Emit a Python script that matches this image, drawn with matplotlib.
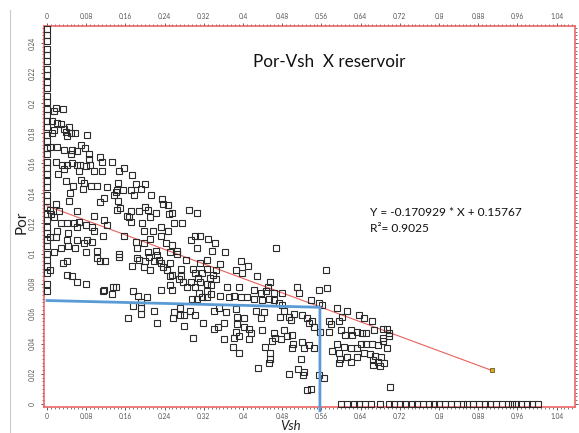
import numpy as np
import matplotlib
matplotlib.use("Agg")
import matplotlib.pyplot as plt
from matplotlib.ticker import MultipleLocator
from matplotlib.lines import Line2D

# --- data ---
# upper part of the cloud
vsh_upper = [0.018, 0.033, 0.014, 0.011, 0.020, 0.028, 0.045, 0.035, 0.014, 0.038,
             0.048, 0.058, 0.041, 0.011, 0.082, 0.007, 0.021, 0.035, 0.052, 0.061,
             0.048, 0.070, 0.077, 0.086, 0.086, 0.108, 0.018, 0.031, 0.041, 0.052,
             0.062, 0.067, 0.079, 0.088, 0.113, 0.133, 0.035, 0.022, 0.065, 0.096,
             0.113, 0.147, 0.157, 0.174, 0.069, 0.076, 0.038, 0.054, 0.089, 0.074,
             0.103, 0.123, 0.144, 0.156, 0.142, 0.171, 0.181, 0.191, 0.200, 0.177,
             0.047, 0.045, 0.116, 0.108, 0.137, 0.140, 0.144, 0.213, 0.235, 0.237,
             0.247, 0.201, 0.150, 0.142, 0.171, 0.188, 0.206, 0.222, 0.256, 0.249,
             0.290, 0.307, 0.018, 0.007, 0.024, 0.062, 0.095, 0.116, 0.122, 0.009,
             0.014, 0.028, 0.040, 0.056, 0.065, 0.062, 0.079, 0.092, 0.021, 0.043,
             0.096, 0.115, 0.007, 0.018, 0.041, 0.062, 0.082, 0.075, 0.092, 0.028,
             0.043, 0.058, 0.014, 0.079, 0.103, 0.147, 0.157, 0.167, 0.171, 0.164,
             0.181, 0.184, 0.193, 0.198, 0.210, 0.217, 0.210, 0.198, 0.233, 0.247,
             0.260, 0.276, 0.232, 0.242, 0.256, 0.266, 0.293, 0.303, 0.313, 0.307,
             0.206, 0.222, 0.252]
por_upper = [0.197, 0.196, 0.195, 0.188, 0.187, 0.186, 0.184, 0.183, 0.182, 0.181,
             0.180, 0.180, 0.178, 0.180, 0.179, 0.171, 0.171, 0.169, 0.169, 0.168,
             0.166, 0.172, 0.170, 0.166, 0.163, 0.164, 0.161, 0.159, 0.159, 0.160,
             0.159, 0.159, 0.158, 0.159, 0.161, 0.161, 0.156, 0.153, 0.155, 0.155,
             0.155, 0.155, 0.157, 0.152, 0.149, 0.147, 0.148, 0.145, 0.145, 0.143,
             0.145, 0.144, 0.147, 0.142, 0.142, 0.142, 0.146, 0.143, 0.146, 0.139,
             0.140, 0.135, 0.137, 0.134, 0.139, 0.141, 0.135, 0.139, 0.136, 0.133,
             0.132, 0.131, 0.130, 0.129, 0.128, 0.128, 0.129, 0.127, 0.127, 0.126,
             0.129, 0.127, 0.133, 0.129, 0.128, 0.128, 0.125, 0.122, 0.119, 0.126,
             0.124, 0.120, 0.120, 0.120, 0.121, 0.118, 0.119, 0.118, 0.115, 0.114,
             0.115, 0.112, 0.111, 0.111, 0.109, 0.109, 0.109, 0.107, 0.108, 0.104,
             0.105, 0.104, 0.101, 0.101, 0.102, 0.100, 0.112, 0.124, 0.121, 0.125,
             0.108, 0.104, 0.120, 0.115, 0.124, 0.115, 0.110, 0.107, 0.118, 0.115,
             0.120, 0.120, 0.112, 0.107, 0.106, 0.102, 0.109, 0.112, 0.112, 0.104,
             0.101, 0.102, 0.101]

# middle-left part
vsh_mid = [0.007, 0.033, 0.040, 0.040, 0.052, 0.062, 0.079, 0.103, 0.108, 0.118,
           0.116, 0.115, 0.135, 0.141, 0.132, 0.147, 0.174, 0.188, 0.197, 0.211,
           0.201, 0.218, 0.228, 0.237, 0.245, 0.252, 0.233, 0.256, 0.252, 0.273,
           0.274, 0.278, 0.270, 0.293, 0.303, 0.313, 0.251, 0.256, 0.232, 0.286,
           0.303, 0.310, 0.296, 0.307, 0.317, 0.175, 0.186, 0.205, 0.191, 0.176,
           0.191, 0.191, 0.165, 0.218, 0.225, 0.259, 0.258, 0.271, 0.272, 0.280,
           0.291, 0.303, 0.319, 0.280, 0.298, 0.184, 0.208, 0.225, 0.266, 0.283,
           0.313, 0.297, 0.317, 0.308]
por_mid = [0.089, 0.094, 0.095, 0.086, 0.085, 0.081, 0.080, 0.097, 0.095, 0.095,
           0.076, 0.075, 0.078, 0.078, 0.073, 0.098, 0.092, 0.096, 0.091, 0.089,
           0.095, 0.095, 0.096, 0.091, 0.089, 0.094, 0.094, 0.086, 0.085, 0.090,
           0.085, 0.081, 0.083, 0.081, 0.087, 0.081, 0.079, 0.076, 0.076, 0.078,
           0.078, 0.074, 0.070, 0.070, 0.071, 0.075, 0.072, 0.071, 0.068, 0.065,
           0.064, 0.060, 0.057, 0.062, 0.054, 0.061, 0.057, 0.064, 0.059, 0.059,
           0.062, 0.059, 0.054, 0.052, 0.044, 0.097, 0.098, 0.099, 0.100, 0.096,
           0.094, 0.090, 0.087, 0.084]

# lower-right part
vsh_lower = [0.329, 0.343, 0.337, 0.363, 0.467, 0.327, 0.354, 0.327, 0.344, 0.339,
             0.333, 0.344, 0.326, 0.334, 0.326, 0.334, 0.326, 0.395, 0.410, 0.385,
             0.397, 0.429, 0.367, 0.392, 0.456, 0.451, 0.422, 0.436, 0.446, 0.463,
             0.480, 0.511, 0.514, 0.354, 0.371, 0.382, 0.395, 0.409, 0.422, 0.439,
             0.453, 0.463, 0.480, 0.473, 0.538, 0.555, 0.572, 0.569, 0.555, 0.562,
             0.591, 0.613, 0.637, 0.603, 0.596, 0.575, 0.579, 0.575, 0.601, 0.620,
             0.633, 0.643, 0.609, 0.623, 0.592, 0.606, 0.620, 0.633, 0.640, 0.582,
             0.596, 0.613, 0.599, 0.633, 0.620, 0.596, 0.341, 0.351, 0.365, 0.385,
             0.402, 0.388, 0.426, 0.443, 0.436, 0.484, 0.475, 0.494, 0.504, 0.497,
             0.521, 0.531, 0.541, 0.535, 0.558, 0.545, 0.361, 0.341, 0.348, 0.388,
             0.402, 0.412, 0.385, 0.392, 0.416, 0.439, 0.463, 0.484, 0.466, 0.477,
             0.490, 0.501, 0.460, 0.503, 0.521, 0.535, 0.545, 0.524, 0.501, 0.362,
             0.382, 0.412, 0.380, 0.392, 0.444, 0.456, 0.456, 0.453, 0.518, 0.431,
             0.494, 0.513, 0.524, 0.523, 0.555, 0.565, 0.531, 0.538,
             0.647, 0.663, 0.667, 0.652, 0.686, 0.693, 0.699, 0.685, 0.697, 0.686,
             0.676, 0.663, 0.651, 0.693, 0.646, 0.659, 0.669, 0.681, 0.666, 0.676,
             0.688, 0.666, 0.680, 0.701]
por_lower = [0.110, 0.107, 0.1015, 0.101, 0.1035, 0.096, 0.093, 0.090, 0.089, 0.086,
             0.084, 0.083, 0.080, 0.079, 0.075, 0.073, 0.071, 0.095, 0.092, 0.089,
             0.087, 0.085, 0.078, 0.078, 0.081, 0.078, 0.076, 0.074, 0.075, 0.074,
             0.074, 0.078, 0.074, 0.072, 0.071, 0.072, 0.071, 0.071, 0.070, 0.069,
             0.070, 0.069, 0.066, 0.067, 0.069, 0.076, 0.077, 0.089, 0.067, 0.066,
             0.064, 0.062, 0.059, 0.058, 0.055, 0.055, 0.053, 0.048, 0.049, 0.049,
             0.048, 0.047, 0.046, 0.046, 0.040, 0.038, 0.037, 0.037, 0.040, 0.035,
             0.034, 0.031, 0.030, 0.031, 0.028, 0.027, 0.062, 0.064, 0.061, 0.063,
             0.057, 0.058, 0.062, 0.061, 0.057, 0.062, 0.058, 0.058, 0.060, 0.056,
             0.059, 0.057, 0.055, 0.054, 0.048, 0.051, 0.054, 0.050, 0.051, 0.053,
             0.051, 0.050, 0.048, 0.045, 0.047, 0.049, 0.047, 0.049, 0.044, 0.043,
             0.045, 0.046, 0.042, 0.040, 0.041, 0.039, 0.037, 0.037, 0.037, 0.043,
             0.044, 0.043, 0.038, 0.034, 0.038, 0.034, 0.030, 0.027, 0.030, 0.024,
             0.020, 0.023, 0.021, 0.019, 0.019, 0.017, 0.009, 0.010,
             0.057, 0.055, 0.049, 0.047, 0.050, 0.050, 0.047, 0.044, 0.045, 0.042,
             0.039, 0.040, 0.040, 0.037, 0.034, 0.033, 0.032, 0.031, 0.029, 0.028,
             0.027, 0.026, 0.025, 0.0115]

# samples sitting on Vsh = 0
por_at_zero_vsh = [0.249, 0.245, 0.241, 0.236, 0.232, 0.228, 0.223, 0.219, 0.214, 0.210,
                   0.205, 0.201, 0.196, 0.192, 0.188, 0.184, 0.179, 0.175, 0.170, 0.166,
                   0.161, 0.157, 0.153, 0.148, 0.144, 0.139, 0.135, 0.131, 0.126, 0.122,
                   0.118, 0.114, 0.109, 0.105, 0.100, 0.096, 0.092, 0.087, 0.080, 0.075]
# samples sitting on Por = 0
vsh_at_zero_por = [0.600, 0.613, 0.626, 0.637, 0.650, 0.661, 0.679, 0.697, 0.708, 0.720,
                   0.731, 0.744, 0.756, 0.768, 0.779, 0.790, 0.800, 0.812, 0.824, 0.836,
                   0.848, 0.858, 0.870, 0.882, 0.893, 0.905, 0.917, 0.928, 0.940, 0.950,
                   0.958, 0.968, 0.980, 0.990, 1.003]

# trend line as drawn (start / end) and the cutoff picks
trend_vsh = [0.0, 0.908]
trend_por = [0.1317, 0.0223]
cutoff_vsh = [0.0, 0.557, 0.557]
cutoff_por = [0.0688, 0.0643, -0.0045]

xticks = [0, 0.08, 0.16, 0.24, 0.32, 0.4, 0.48, 0.56, 0.64, 0.72, 0.8, 0.88, 0.96, 1.04]
xtick_labels = ['0', '0.08', '0.16', '0.24', '0.32', '0.4', '0.48', '0.56', '0.64',
                '0.72', '0.8', '0.88', '0.96', '1.04']
yticks = [0, 0.02, 0.04, 0.06, 0.08, 0.1, 0.12, 0.14, 0.16, 0.18, 0.2, 0.22, 0.24]
ytick_labels = ['0', '0.02', '0.04', '0.06', '0.08', '0.1', '0.12', '0.14', '0.16',
                '0.18', '0.2', '0.22', '0.24']

plt.rcParams['font.family'] = ['Lato', 'DejaVu Sans']

fig = plt.figure(figsize=(5.79, 4.33), dpi=100)
ax = fig.add_axes([0.0765, 0.060, 0.9166, 0.880])

marker_style = dict(linestyle='none', marker='s', markersize=5.0,
                    markerfacecolor='none', markeredgecolor='#2b2b2b',
                    markeredgewidth=0.8, clip_on=False, zorder=3)
ax.plot(vsh_upper, por_upper, **marker_style)
ax.plot(vsh_mid, por_mid, **marker_style)
ax.plot(vsh_lower, por_lower, **marker_style)
ax.plot(np.zeros(len(por_at_zero_vsh)), por_at_zero_vsh, **marker_style)
ax.plot(vsh_at_zero_por, np.zeros(len(vsh_at_zero_por)), **marker_style)

# regression line + end marker
ax.plot(trend_vsh, trend_por, color='#e8605c', lw=0.8, zorder=2)
ax.plot(trend_vsh[-1], trend_por[-1], marker='s', markersize=3.2,
        markerfacecolor='#e0a81c', markeredgecolor='#6b5a20', markeredgewidth=0.6, zorder=4)

# cutoff lines
ax.plot(cutoff_vsh, cutoff_por, color='#5b9bd5', lw=2.0, clip_on=False, zorder=4,
        solid_joinstyle='miter')

ax.set_xlim(-0.0055, 1.0776)
ax.set_ylim(-0.002, 0.2513)

for side in ax.spines.values():
    side.set_color('#ee5a5a')
    side.set_linewidth(1.1)

ax.set_xticks(xticks)
ax.set_xticklabels(xtick_labels)
ax.set_yticks(yticks)
ax.set_yticklabels(ytick_labels, rotation=90, va='center')
ax.xaxis.set_minor_locator(MultipleLocator(0.008))
ax.yaxis.set_minor_locator(MultipleLocator(0.0025))
ax.tick_params(which='both', direction='out', colors='#444444', labelcolor='#555555',
               top=True, right=True, labeltop=True, labelbottom=True, labelsize=4.8)
ax.tick_params(which='major', length=2.5, width=0.6)
ax.tick_params(which='minor', length=1.5, width=0.5)
ax.tick_params(axis='x', pad=2.0)
ax.tick_params(axis='y', pad=4)

fig.text(329 / 579, 1 - 62 / 433, 'Por-Vsh  X reservoir', fontsize=12.3,
         ha='center', va='center', color='#111111')
fig.text(370 / 579, 1 - 212 / 433, 'Y = -0.170929 * X + 0.15767', fontsize=8.6,
         ha='left', va='center', color='#111111')
fig.text(370 / 579, 1 - 228 / 433, 'R\u00b2= 0.9025', fontsize=8.6,
         ha='left', va='center', color='#111111')
fig.text(22 / 579, 1 - 222 / 433, 'Por', fontsize=11, rotation=90,
         ha='center', va='center', color='#222222')
fig.text(291 / 579, 1 - 426 / 433, 'Vsh', fontsize=9.5, style='italic',
         ha='center', va='center', color='#222222')

# thin grey frame line of the original window
fig.add_artist(Line2D([10 / 579, 10 / 579], [0, 1 - 10 / 433], color='#cccccc', lw=0.8))

fig.savefig('out.png', dpi=100)
